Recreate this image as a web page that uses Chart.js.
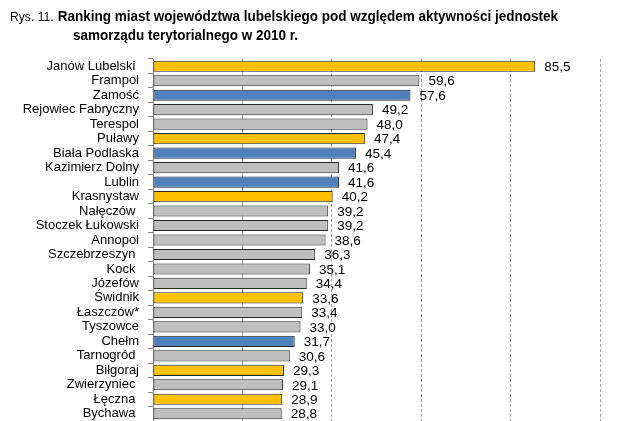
<!DOCTYPE html>
<html>
<head>
<meta charset="utf-8">
<script src="https://cdn.jsdelivr.net/npm/chart.js@4/dist/chart.umd.min.js"></script>
<style>
body { margin: 0; background: #fff; }
#wrap { position: relative; width: 638px; height: 421px; }
#chart { position: absolute; left: 0; top: 0; }
.title { position: absolute; font-family: 'Liberation Sans', Arial, sans-serif; color: #000; white-space: nowrap;
  transform: scaleX(0.9); transform-origin: 0 0; }
.title b { font-size: 15px; }
.rys { font-size: 13.5px; }
</style>
</head>
<body>
<div id="wrap">
  <canvas id="chart" width="638" height="421"></canvas>
  <div class="title" style="left:10px; top:7px;"><span class="rys">Rys. 11.</span> <b>Ranking miast województwa lubelskiego pod względem aktywności jednostek</b></div>
  <div class="title" style="left:73px; top:26px;"><b>samorządu terytorialnego w 2010 r.</b></div>
</div>
<script>
// miasta, od najwyższego wyniku
const cities = ['Janów Lubelski ', 'Frampol', 'Zamość', 'Rejowiec Fabryczny', 'Terespol', 'Puławy',
  'Biała Podlaska', 'Kazimierz Dolny', 'Lublin', 'Krasnystaw', 'Nałęczów ', 'Stoczek Łukowski',
  'Annopol', 'Szczebrzeszyn ', 'Kock ', 'Józefów', 'Świdnik', 'Łaszczów*', 'Tyszowce', 'Chełm',
  'Tarnogród ', 'Biłgoraj', 'Zwierzyniec ', 'Łęczna ', 'Bychawa ']
const values = [85.5, 59.6, 57.6, 49.2, 48.0, 47.4, 45.4, 41.6, 41.6, 40.2, 39.2, 39.2,
  38.6, 36.3, 35.1, 34.4, 33.6, 33.4, 33.0, 31.7, 30.6, 29.3, 29.1, 28.9, 28.8]
// y = powiat, b = miasto na prawach powiatu, g = pozostałe
const groups = ['y', 'g', 'b', 'g', 'g', 'y', 'b', 'g', 'b', 'y', 'g', 'g',
  'g', 'g', 'g', 'g', 'y', 'g', 'g', 'b', 'g', 'y', 'g', 'y', 'g']
const xTicks = [0, 20, 40, 60, 80, 100]

const palette = { y: '#FFC000', b: '#4F81BD', g: '#BFBFBF' }

const valueLabels = {
  id: 'valueLabels',
  afterDatasetsDraw(chart) {
    const ctx = chart.ctx
    const meta = chart.getDatasetMeta(0)
    ctx.save()
    ctx.font = '13.5px "Liberation Sans", Arial, sans-serif'
    ctx.fillStyle = '#000'
    ctx.textBaseline = 'middle'
    meta.data.forEach((bar, i) => {
      ctx.fillText(values[i].toFixed(1).replace('.', ','), bar.x + 9, bar.y + 1)
    })
    ctx.restore()
  }
}

new Chart('chart', {
  type: 'bar',
  data: {
    labels: cities,
    datasets: [{
      data: values,
      backgroundColor: groups.map(g => palette[g]),
      borderColor: '#262626',
      borderWidth: 1,
      borderSkipped: false,
      barPercentage: 0.77,
      categoryPercentage: 1
    }]
  },
  options: {
    indexAxis: 'y',
    responsive: false,
    animation: false,
    layout: { padding: { top: 59, right: 38, bottom: 0, left: 0 } },
    plugins: { legend: { display: false }, tooltip: { enabled: false } },
    scales: {
      x: {
        min: xTicks[0],
        max: xTicks[xTicks.length - 1],
        afterBuildTicks: s => { s.ticks = xTicks.map(v => ({ value: v })) },
        afterFit: s => { s.height = 0 },
        ticks: { display: false },
        grid: {
          drawTicks: false,
          color: c => c.index === 0 ? 'rgba(0,0,0,0)' : '#A6A6A6'
        },
        border: { display: false, dash: c => (c.tick && c.tick.value === 20) ? [] : [3, 2] }
      },
      y: {
        afterFit: s => { s.width = 153; s.paddingTop = 0; s.paddingBottom = 0 },
        ticks: {
          color: '#000',
          padding: 9,
          autoSkip: false,
          font: { family: "'Liberation Sans', Arial, sans-serif", size: 13 }
        },
        grid: { drawOnChartArea: false, drawTicks: true, tickLength: 5, color: '#868686' },
        border: { color: '#868686' }
      }
    }
  },
  plugins: [valueLabels]
})
</script>
</body>
</html>
